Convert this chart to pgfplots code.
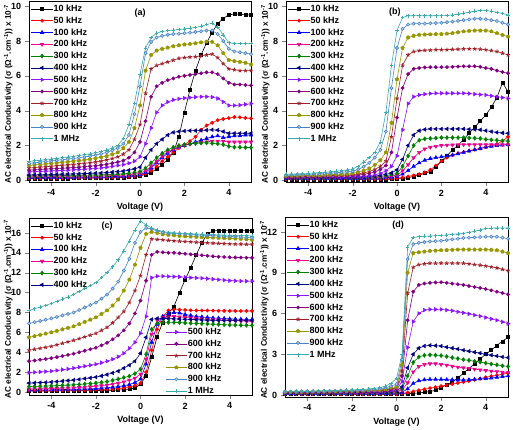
\documentclass[border=0pt]{standalone}
\usepackage{fontspec}
\setmainfont{Liberation Sans}
\usepackage{pgfplots}
\usepackage{pgfplotstable}
\pgfplotsset{compat=1.18}
\usetikzlibrary{plotmarks}

\definecolor{cE}{RGB}{0,128,0}
\definecolor{cF}{RGB}{0,0,128}
\definecolor{cG}{RGB}{140,20,255}
\definecolor{cH}{RGB}{128,0,128}
\definecolor{cI}{RGB}{160,30,40}
\definecolor{cJ}{RGB}{150,150,0}
\definecolor{cK}{RGB}{70,130,200}
\definecolor{cL}{RGB}{60,170,170}

\pgfplotsset{
  pA/.style={black, mark=square*, mark size=1.5pt},
  pB/.style={red, mark=*, mark size=1.6pt},
  pC/.style={blue, mark=triangle*, mark size=2pt},
  pD/.style={magenta, mark=triangle*, mark size=2pt, mark options={rotate=180}},
  pE/.style={cE, mark=diamond*, mark size=2pt},
  pF/.style={cF, mark=triangle*, mark size=2pt, mark options={rotate=90}},
  pG/.style={cG, mark=triangle*, mark size=2pt, mark options={rotate=270}},
  pH/.style={cH, mark=*, mark size=1.6pt},
  pI/.style={cI, mark=star, mark size=2pt, mark options={line width=0.8pt}},
  pJ/.style={cJ, mark=pentagon*, mark size=1.8pt},
  pK/.style={cK, mark=*, mark size=1.6pt, mark options={fill=cK!35!white}},
  pL/.style={cL, mark=+, mark size=1.8pt},
  panel/.style={
    scale only axis,
    xmin=-5, xmax=5, xtick={-4,-2,0,2,4},
    tick align=outside, tick pos=left,
    /pgf/number format/assume math mode=true,
    ticklabel style={font=\bfseries\fontsize{9}{10}\selectfont},
    xlabel={Voltage (V)},
    xlabel style={font=\bfseries\fontsize{9}{10}\selectfont},
    ylabel={AC electrical Conductivity (σ (Ω\textsuperscript{-1}.cm\textsuperscript{-1})) x 10\textsuperscript{-7}},
    ylabel style={font=\bfseries\fontsize{8.2}{9}\selectfont,
      at={(axis description cs:-0.073,0.485)}, anchor=south, inner sep=0pt},
    axis line style={line width=0.6pt},
    every axis plot/.append style={line width=0.6pt},
    legend style={draw=none, fill=none, inner sep=0pt,
      font=\bfseries\fontsize{9}{10}\selectfont,
      nodes={inner sep=0.5pt, text height=7pt, text depth=2pt},
      row sep=1.8pt, at={(0.008,0.985)}, anchor=north west},
    legend cell align=left,
    legend image code/.code={\draw[mark repeat=2,mark phase=2] plot coordinates {(0cm,0cm)(0.38cm,0cm)(0.76cm,0cm)};},
  }
}

\newcommand\plotsAF[1]{%
  \addplot[pA] table[x=V,y=A]{#1}; \addlegendentry{10 kHz}
  \addplot[pB] table[x=V,y=B]{#1}; \addlegendentry{50 kHz}
  \addplot[pC] table[x=V,y=C]{#1}; \addlegendentry{100 kHz}
  \addplot[pD] table[x=V,y=D]{#1}; \addlegendentry{200 kHz}
  \addplot[pE] table[x=V,y=E]{#1}; \addlegendentry{300 kHz}
  \addplot[pF] table[x=V,y=F]{#1}; \addlegendentry{400 kHz}
}
\newcommand\plotsGL[1]{%
  \addplot[pG] table[x=V,y=G]{#1}; \addlegendentry{500 kHz}
  \addplot[pH] table[x=V,y=H]{#1}; \addlegendentry{600 kHz}
  \addplot[pI] table[x=V,y=I]{#1}; \addlegendentry{700 kHz}
  \addplot[pJ] table[x=V,y=J]{#1}; \addlegendentry{800 kHz}
  \addplot[pK] table[x=V,y=K]{#1}; \addlegendentry{900 kHz}
  \addplot[pL] table[x=V,y=L]{#1}; \addlegendentry{1 MHz}
}

\pgfplotstableread[header=false]{
V -5 -4.75 -4.5 -4.25 -4 -3.75 -3.5 -3.25 -3 -2.75 -2.5 -2.25 -2 -1.75 -1.5 -1.25 -1 -0.75 -0.5 -0.25 0 0.25 0.5 0.75 1 1.25 1.5 1.75 2 2.25 2.5 2.75 3 3.25 3.5 3.75 4 4.25 4.5 4.75 5
A 0.10 0.10 0.10 0.11 0.11 0.11 0.11 0.11 0.12 0.12 0.12 0.12 0.13 0.13 0.14 0.14 0.15 0.16 0.18 0.2 0.25 0.33 0.45 0.65 0.9 1.2 1.6 2.5 3.9 5.2 6.3 7.2 7.9 8.5 9.0 9.3 9.5 9.55 9.55 9.5 9.5
B 0.12 0.12 0.12 0.13 0.13 0.13 0.13 0.14 0.14 0.14 0.15 0.15 0.15 0.16 0.16 0.17 0.18 0.19 0.2 0.23 0.28 0.38 0.55 0.8 1.1 1.35 1.6 1.85 2.05 2.25 2.5 2.9 3.15 3.3 3.45 3.52 3.57 3.63 3.62 3.58 3.55
C 0.15 0.15 0.16 0.16 0.16 0.16 0.17 0.17 0.17 0.18 0.18 0.18 0.19 0.19 0.2 0.21 0.22 0.23 0.25 0.28 0.33 0.45 0.7 1.0 1.3 1.55 1.75 1.9 2.0 2.1 2.2 2.3 2.4 2.5 2.55 2.45 2.5 2.55 2.55 2.6 2.6
D 0.2 0.2 0.21 0.21 0.21 0.22 0.22 0.22 0.23 0.23 0.23 0.24 0.24 0.25 0.26 0.27 0.28 0.29 0.31 0.35 0.4 0.55 0.8 1.1 1.4 1.65 1.8 1.92 2.0 2.08 2.13 2.18 2.2 2.25 2.25 2.25 2.2 2.2 2.2 2.2 2.2
E 0.25 0.25 0.26 0.26 0.27 0.27 0.27 0.28 0.28 0.29 0.29 0.3 0.3 0.31 0.32 0.34 0.35 0.37 0.4 0.44 0.5 0.7 1.0 1.3 1.55 1.75 1.9 2.0 2.05 2.1 2.12 2.14 2.15 2.12 2.1 2.05 1.95 1.9 1.9 1.88 1.88
F 0.3 0.31 0.32 0.32 0.33 0.34 0.35 0.36 0.36 0.37 0.38 0.4 0.41 0.42 0.44 0.47 0.5 0.53 0.58 0.65 0.75 1.3 1.75 2.1 2.35 2.6 2.75 2.8 2.83 2.85 2.85 2.86 2.88 2.9 2.88 2.8 2.7 2.7 2.7 2.7 2.7
G 0.48 0.5 0.51 0.52 0.54 0.55 0.57 0.58 0.6 0.62 0.64 0.66 0.68 0.71 0.75 0.8 0.85 0.9 0.98 1.1 1.35 2.1 3.0 3.9 4.3 4.5 4.62 4.68 4.72 4.75 4.78 4.8 4.8 4.78 4.7 4.5 4.3 4.3 4.32 4.36 4.4
H 0.58 0.6 0.62 0.64 0.66 0.67 0.69 0.71 0.73 0.75 0.78 0.81 0.83 0.87 0.92 0.98 1.05 1.13 1.3 1.6 2.2 3.4 4.8 5.4 5.6 5.75 5.85 5.95 6.0 6.05 6.1 6.15 6.2 6.2 6.1 5.85 5.6 5.5 5.5 5.47 5.45
I 0.7 0.73 0.75 0.78 0.8 0.83 0.86 0.88 0.91 0.94 0.97 1.01 1.05 1.1 1.17 1.25 1.35 1.5 1.75 2.35 3.2 5.0 6.4 6.6 6.7 6.8 6.9 7.0 7.05 7.08 7.1 7.15 7.2 7.25 7.05 6.7 6.4 6.35 6.3 6.3 6.3
J 0.85 0.88 0.91 0.94 0.97 1.0 1.03 1.06 1.09 1.13 1.17 1.21 1.26 1.32 1.39 1.49 1.6 1.85 2.2 3.0 4.3 6.3 7.2 7.45 7.55 7.62 7.7 7.75 7.8 7.83 7.87 7.92 7.96 7.95 7.75 7.3 6.9 6.85 6.8 6.75 6.65
K 0.97 1.0 1.04 1.08 1.11 1.15 1.18 1.22 1.25 1.3 1.34 1.39 1.45 1.52 1.6 1.72 1.85 2.1 2.6 3.8 5.4 7.3 7.95 8.2 8.3 8.36 8.4 8.42 8.45 8.48 8.52 8.56 8.6 8.6 8.4 8.0 7.55 7.4 7.35 7.3 7.25
L 1.08 1.12 1.15 1.19 1.23 1.26 1.3 1.34 1.37 1.42 1.47 1.52 1.58 1.65 1.74 1.86 2.0 2.4 3.2 4.4 6.1 7.6 8.2 8.45 8.55 8.6 8.63 8.66 8.7 8.74 8.78 8.85 8.95 9.02 8.8 8.35 7.9 7.85 7.85 7.85 7.85
}\rawA
\pgfplotstabletranspose[colnames from=0]{\tA}{\rawA}

\pgfplotstableread[header=false]{
V -5 -4.75 -4.5 -4.25 -4 -3.75 -3.5 -3.25 -3 -2.75 -2.5 -2.25 -2 -1.75 -1.5 -1.25 -1 -0.75 -0.5 -0.25 0 0.25 0.5 0.75 1 1.25 1.5 1.75 2 2.25 2.5 2.75 3 3.25 3.5 3.75 4 4.25 4.5 4.75 5
A 0.05 0.05 0.05 0.05 0.05 0.05 0.05 0.05 0.05 0.05 0.05 0.05 0.05 0.05 0.05 0.05 0.05 0.05 0.05 0.06 0.07 0.1 0.15 0.22 0.3 0.4 0.5 0.75 1.1 1.4 1.75 2.0 2.35 2.7 3.05 3.4 3.75 4.2 4.75 5.6 5.1
B 0.07 0.07 0.07 0.07 0.07 0.07 0.07 0.07 0.07 0.07 0.07 0.07 0.07 0.07 0.07 0.07 0.07 0.08 0.09 0.1 0.12 0.16 0.22 0.28 0.35 0.45 0.6 0.85 1.1 1.3 1.45 1.55 1.62 1.7 1.76 1.83 1.9 1.98 2.08 2.25 2.5
C 0.09 0.09 0.09 0.09 0.09 0.09 0.1 0.1 0.1 0.1 0.1 0.1 0.1 0.1 0.1 0.11 0.12 0.13 0.15 0.17 0.22 0.35 0.55 0.8 1.0 1.15 1.25 1.3 1.35 1.4 1.45 1.52 1.6 1.68 1.75 1.82 1.9 1.95 2.0 2.02 2.05
D 0.1 0.1 0.1 0.1 0.11 0.11 0.11 0.11 0.11 0.12 0.12 0.12 0.12 0.12 0.13 0.14 0.15 0.17 0.2 0.24 0.3 0.55 0.9 1.3 1.6 1.8 1.9 1.95 2.0 2.02 2.03 2.04 2.05 2.05 2.05 2.05 2.05 2.05 2.05 2.05 2.05
E 0.12 0.12 0.12 0.12 0.13 0.13 0.13 0.13 0.13 0.14 0.14 0.14 0.14 0.15 0.16 0.17 0.19 0.22 0.26 0.32 0.4 0.8 1.4 2.0 2.3 2.38 2.4 2.42 2.45 2.45 2.45 2.45 2.45 2.43 2.42 2.4 2.35 2.32 2.3 2.27 2.25
F 0.14 0.14 0.14 0.15 0.15 0.15 0.15 0.16 0.16 0.16 0.16 0.17 0.17 0.18 0.19 0.21 0.24 0.28 0.34 0.42 0.6 1.2 2.0 2.6 2.85 2.92 2.95 2.95 2.95 2.95 2.95 2.95 2.95 2.93 2.92 2.9 2.85 2.8 2.75 2.72 2.7
G 0.17 0.17 0.17 0.18 0.18 0.18 0.18 0.19 0.19 0.19 0.19 0.2 0.2 0.22 0.24 0.27 0.32 0.4 0.55 0.8 1.4 2.9 4.4 4.8 4.9 4.95 4.98 5.0 5.0 5.0 5.0 5.0 5.0 4.98 4.95 4.92 4.9 4.85 4.8 4.75 4.7
H 0.2 0.2 0.21 0.21 0.22 0.22 0.23 0.23 0.24 0.24 0.25 0.26 0.27 0.3 0.34 0.4 0.48 0.62 0.85 1.6 3.6 5.3 6.1 6.4 6.45 6.48 6.5 6.5 6.5 6.5 6.52 6.53 6.55 6.55 6.55 6.52 6.45 6.4 6.3 6.22 6.15
I 0.22 0.22 0.23 0.23 0.24 0.25 0.25 0.26 0.27 0.28 0.29 0.3 0.32 0.36 0.42 0.5 0.62 0.8 1.1 2.5 4.7 6.6 7.2 7.4 7.45 7.47 7.48 7.5 7.5 7.5 7.52 7.53 7.55 7.55 7.55 7.53 7.5 7.45 7.4 7.3 7.2
J 0.25 0.26 0.26 0.27 0.28 0.29 0.3 0.31 0.32 0.34 0.35 0.37 0.4 0.46 0.55 0.68 0.88 1.15 1.6 3.3 5.8 7.6 8.2 8.3 8.35 8.37 8.38 8.4 8.4 8.42 8.45 8.5 8.55 8.58 8.6 8.6 8.6 8.55 8.45 8.35 8.25
K 0.3 0.31 0.32 0.33 0.34 0.36 0.37 0.39 0.41 0.43 0.46 0.49 0.52 0.62 0.78 1.0 1.3 1.75 2.8 5.3 7.6 8.7 8.95 9.0 9.0 9.0 9.02 9.03 9.05 9.08 9.12 9.16 9.2 9.24 9.28 9.28 9.25 9.2 9.15 9.05 8.95
L 0.35 0.36 0.37 0.39 0.4 0.42 0.44 0.46 0.49 0.52 0.55 0.6 0.65 0.8 1.05 1.3 1.6 2.2 3.9 6.6 8.6 9.35 9.45 9.45 9.45 9.45 9.45 9.45 9.45 9.47 9.5 9.55 9.6 9.66 9.72 9.75 9.75 9.72 9.65 9.58 9.5
}\rawB
\pgfplotstabletranspose[colnames from=0]{\tB}{\rawB}

\pgfplotstableread[header=false]{
V -5 -4.75 -4.5 -4.25 -4 -3.75 -3.5 -3.25 -3 -2.75 -2.5 -2.25 -2 -1.75 -1.5 -1.25 -1 -0.75 -0.5 -0.25 0 0.25 0.5 0.75 1 1.25 1.5 1.75 2 2.25 2.5 2.75 3 3.25 3.5 3.75 4 4.25 4.5 4.75 5
A 0.1 0.1 0.1 0.1 0.1 0.11 0.11 0.12 0.12 0.13 0.13 0.14 0.15 0.16 0.17 0.18 0.2 0.23 0.3 0.4 0.8 1.6 3.5 5.6 7.0 7.9 8.6 10.0 11.3 12.5 13.8 15.0 15.9 16.2 16.25 16.25 16.25 16.25 16.25 16.25 16.25
B 0.15 0.15 0.15 0.16 0.16 0.16 0.17 0.17 0.18 0.19 0.2 0.22 0.23 0.25 0.28 0.31 0.35 0.4 0.5 0.65 0.9 2.0 4.2 6.3 7.6 8.2 8.3 8.28 8.25 8.22 8.2 8.2 8.2 8.18 8.17 8.16 8.15 8.15 8.15 8.15 8.15
C 0.2 0.2 0.21 0.21 0.22 0.23 0.24 0.26 0.27 0.29 0.31 0.33 0.35 0.39 0.43 0.49 0.55 0.63 0.75 0.95 1.3 2.8 5.0 6.8 7.6 7.9 8.0 7.95 7.8 7.7 7.6 7.55 7.5 7.45 7.42 7.4 7.35 7.33 7.32 7.3 7.3
D 0.3 0.31 0.32 0.34 0.35 0.37 0.38 0.4 0.42 0.46 0.5 0.54 0.58 0.64 0.7 0.8 0.9 1.02 1.2 1.4 1.8 3.3 5.8 7.2 7.5 7.55 7.6 7.55 7.5 7.45 7.4 7.35 7.3 7.27 7.25 7.22 7.2 7.17 7.15 7.12 7.1
E 0.55 0.57 0.58 0.6 0.62 0.64 0.67 0.69 0.72 0.76 0.81 0.85 0.9 0.97 1.05 1.17 1.3 1.45 1.6 1.85 2.3 3.8 6.3 6.9 7.0 7.0 7.0 6.98 6.95 6.92 6.9 6.87 6.85 6.82 6.8 6.77 6.75 6.73 6.72 6.71 6.7
F 0.9 0.92 0.95 0.97 1.0 1.05 1.1 1.15 1.2 1.27 1.35 1.42 1.5 1.62 1.75 1.92 2.1 2.4 2.7 3.1 3.9 5.5 7.3 7.4 7.4 7.38 7.36 7.34 7.32 7.3 7.28 7.25 7.22 7.2 7.2 7.2 7.2 7.2 7.2 7.2 7.2
G 1.95 1.99 2.02 2.06 2.1 2.17 2.25 2.32 2.4 2.5 2.6 2.7 2.8 2.95 3.1 3.3 3.55 3.9 4.4 5.0 5.9 7.6 11.5 11.65 11.65 11.62 11.6 11.58 11.55 11.5 11.48 11.45 11.4 11.35 11.3 11.25 11.2 11.18 11.16 11.15 11.15
H 3.1 3.17 3.25 3.32 3.4 3.51 3.62 3.74 3.85 4.0 4.15 4.3 4.45 4.7 4.95 5.3 5.7 6.2 6.9 7.9 9.2 11.2 13.8 14.1 14.05 14.0 14.0 13.95 13.9 13.85 13.8 13.75 13.7 13.65 13.6 13.58 13.55 13.53 13.52 13.5 13.5
I 4.2 4.3 4.4 4.5 4.6 4.75 4.9 5.05 5.2 5.37 5.55 5.72 5.9 6.2 6.5 6.95 7.5 8.1 9.0 10.2 11.7 13.8 15.4 15.35 15.3 15.25 15.2 15.17 15.13 15.1 15.07 15.03 15.0 14.97 14.95 14.92 14.9 14.88 14.87 14.86 14.85
J 5.5 5.62 5.75 5.87 6.0 6.15 6.3 6.45 6.6 6.82 7.05 7.27 7.5 7.85 8.2 8.7 9.3 10.2 11.3 12.8 14.5 15.9 16.1 16.0 15.85 15.8 15.75 15.7 15.65 15.62 15.6 15.57 15.55 15.52 15.5 15.47 15.45 15.42 15.4 15.35 15.3
K 6.9 7.02 7.15 7.27 7.4 7.55 7.7 7.85 8.0 8.25 8.5 8.75 9.0 9.4 9.8 10.4 11.1 12.2 13.4 15.0 16.1 16.5 16.4 16.2 16.05 15.98 15.95 15.92 15.9 15.85 15.8 15.77 15.75 15.72 15.7 15.67 15.65 15.62 15.6 15.55 15.5
L 8.2 8.37 8.55 8.72 8.9 9.12 9.35 9.57 9.8 10.1 10.4 10.7 11.0 11.5 12.0 12.6 13.3 14.2 15.2 16.3 17.2 16.8 16.5 16.3 16.15 16.05 16.0 15.97 15.95 15.92 15.9 15.87 15.85 15.82 15.8 15.78 15.77 15.76 15.75 15.72 15.7
}\rawC
\pgfplotstabletranspose[colnames from=0]{\tC}{\rawC}

\pgfplotstableread[header=false]{
V -5 -4.75 -4.5 -4.25 -4 -3.75 -3.5 -3.25 -3 -2.75 -2.5 -2.25 -2 -1.75 -1.5 -1.25 -1 -0.75 -0.5 -0.25 0 0.25 0.5 0.75 1 1.25 1.5 1.75 2 2.25 2.5 2.75 3 3.25 3.5 3.75 4 4.25 4.5 4.75 5
A 0.05 0.05 0.05 0.05 0.05 0.05 0.05 0.05 0.05 0.05 0.05 0.05 0.05 0.05 0.05 0.05 0.05 0.05 0.05 0.05 0.06 0.08 0.1 0.12 0.15 0.2 0.25 0.35 0.55 0.75 0.95 1.25 1.6 1.95 2.3 2.65 3.0 3.3 3.65 3.95 4.25
B 0.07 0.07 0.07 0.07 0.07 0.07 0.07 0.07 0.07 0.07 0.07 0.07 0.07 0.07 0.07 0.07 0.07 0.07 0.07 0.08 0.09 0.12 0.18 0.26 0.35 0.42 0.5 0.57 0.65 0.72 0.8 0.88 0.95 1.03 1.12 1.2 1.3 1.38 1.45 1.53 1.6
C 0.09 0.09 0.09 0.09 0.09 0.09 0.09 0.09 0.1 0.1 0.1 0.1 0.1 0.1 0.1 0.1 0.1 0.1 0.11 0.12 0.14 0.2 0.45 0.85 1.05 1.12 1.15 1.15 1.15 1.13 1.12 1.1 1.1 1.12 1.15 1.18 1.2 1.25 1.3 1.35 1.4
D 0.11 0.11 0.11 0.11 0.11 0.12 0.12 0.12 0.12 0.12 0.12 0.12 0.12 0.13 0.13 0.13 0.13 0.14 0.15 0.17 0.2 0.35 0.9 1.7 2.1 2.25 2.3 2.3 2.25 2.2 2.12 2.05 2.0 1.95 1.9 1.85 1.8 1.75 1.72 1.68 1.65
E 0.13 0.13 0.13 0.13 0.14 0.14 0.14 0.14 0.14 0.15 0.15 0.15 0.15 0.15 0.16 0.16 0.16 0.17 0.18 0.2 0.25 0.45 1.4 2.4 2.8 2.92 2.95 2.93 2.9 2.83 2.75 2.68 2.6 2.55 2.48 2.42 2.35 2.28 2.22 2.15 2.1
F 0.15 0.15 0.16 0.16 0.16 0.16 0.16 0.17 0.17 0.17 0.17 0.18 0.18 0.18 0.18 0.19 0.19 0.2 0.22 0.25 0.3 0.6 2.0 3.0 3.45 3.6 3.65 3.63 3.6 3.52 3.45 3.38 3.3 3.22 3.15 3.08 3.0 2.93 2.87 2.8 2.75
G 0.17 0.17 0.18 0.18 0.18 0.18 0.19 0.19 0.2 0.2 0.2 0.21 0.21 0.21 0.22 0.22 0.23 0.25 0.28 0.32 0.38 1.0 3.5 5.4 6.0 6.25 6.3 6.3 6.3 6.25 6.2 6.12 6.05 5.97 5.88 5.8 5.7 5.6 5.5 5.38 5.25
H 0.19 0.19 0.2 0.2 0.21 0.21 0.22 0.22 0.23 0.23 0.24 0.24 0.25 0.25 0.26 0.26 0.27 0.3 0.33 0.4 0.45 1.4 5.5 7.6 8.1 8.2 8.25 8.28 8.3 8.25 8.2 8.15 8.1 8.02 7.95 7.88 7.8 7.7 7.6 7.5 7.4
I 0.2 0.2 0.21 0.21 0.22 0.22 0.23 0.23 0.24 0.25 0.25 0.26 0.27 0.27 0.28 0.29 0.3 0.33 0.37 0.45 0.5 1.8 7.5 9.4 9.6 9.65 9.7 9.7 9.7 9.7 9.7 9.7 9.7 9.65 9.6 9.55 9.5 9.43 9.35 9.25 9.15
J 0.22 0.22 0.23 0.23 0.24 0.24 0.25 0.25 0.26 0.27 0.28 0.29 0.3 0.31 0.32 0.33 0.35 0.38 0.43 0.55 0.6 2.2 9.0 10.45 10.5 10.55 10.6 10.62 10.65 10.67 10.68 10.7 10.7 10.7 10.7 10.7 10.7 10.68 10.65 10.55 10.45
K 0.24 0.24 0.25 0.25 0.26 0.26 0.27 0.28 0.29 0.3 0.31 0.32 0.33 0.34 0.36 0.38 0.4 0.45 0.52 0.65 0.8 2.6 10.0 11.1 11.2 11.25 11.3 11.32 11.35 11.4 11.45 11.5 11.55 11.58 11.6 11.63 11.65 11.65 11.65 11.58 11.5
L 0.26 0.26 0.27 0.27 0.28 0.29 0.3 0.31 0.32 0.33 0.34 0.35 0.37 0.39 0.41 0.44 0.48 0.55 0.65 0.85 1.2 3.0 10.9 11.6 11.65 11.68 11.7 11.72 11.75 11.78 11.82 11.86 11.9 11.97 12.05 12.15 12.25 12.28 12.3 12.3 12.3
}\rawD
\pgfplotstabletranspose[colnames from=0]{\tD}{\rawD}

\begin{document}
\begin{tikzpicture}
\useasboundingbox (0,0) rectangle (513pt,429pt);
% (a)
\begin{axis}[panel, at={(29pt,247pt)}, width=222pt, height=181pt,
  ymin=-0.1, ymax=10.3, ytick={0,2,4,6,8,10}]
\plotsAF{\tA}
\plotsGL{\tA}
\node[font=\bfseries\fontsize{9}{10}\selectfont] at (rel axis cs:0.5,0.935) {(a)};
\end{axis}
% (b)
\begin{axis}[panel, at={(286pt,247pt)}, width=222pt, height=181pt,
  ymin=-0.1, ymax=10.3, ytick={0,2,4,6,8,10}]
\plotsAF{\tB}
\plotsGL{\tB}
\node[font=\bfseries\fontsize{9}{10}\selectfont] at (rel axis cs:0.49,0.94) {(b)};
\end{axis}
% (c)
\begin{axis}[panel, at={(29pt,34pt)}, width=223pt, height=177pt,
  ymin=-0.3, ymax=17.5, ytick={0,2,4,6,8,10,12,14,16}]
\plotsAF{\tC}
\node[font=\bfseries\fontsize{9}{10}\selectfont] at (rel axis cs:0.35,0.955) {(c)};
\end{axis}
\begin{axis}[panel, hide axis, at={(29pt,34pt)}, width=223pt, height=177pt,
  ymin=-0.3, ymax=17.5, legend style={at={(0.61,0.385)}, anchor=north west}]
\plotsGL{\tC}
\end{axis}
% (d)
\begin{axis}[panel, at={(285pt,32pt)}, width=223pt, height=180pt,
  ymin=-0.15, ymax=13.1, ytick={0,3,6,9,12}]
\plotsAF{\tD}
\plotsGL{\tD}
\node[font=\bfseries\fontsize{9}{10}\selectfont] at (rel axis cs:0.507,0.955) {(d)};
\end{axis}
\end{tikzpicture}
\end{document}
